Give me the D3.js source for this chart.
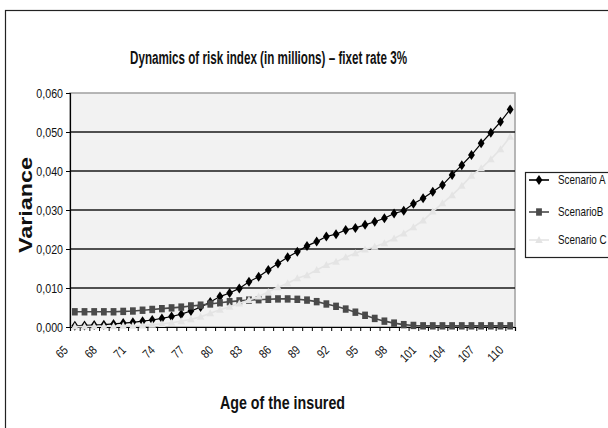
<!DOCTYPE html>
<html>
<head>
<meta charset="utf-8">
<script src="https://cdn.jsdelivr.net/npm/d3@7"></script>
<style>
  body { margin: 0; background: #fff; }
  text { font-family: "Liberation Sans", Arial, sans-serif; }
</style>
</head>
<body>
<div id="chart"></div>
<script>
// ages on the category axis
let ages = [65,66,67,68,69,70,71,72,73,74,75,76,77,78,79,80,81,82,83,84,85,86,87,88,89,
            90,91,92,93,94,95,96,97,98,99,100,101,102,103,104,105,106,107,108,109,110];
let ageLabels = [65,68,71,74,77,80,83,86,89,92,95,98,101,104,107,110];
let yTicks = [0, 0.01, 0.02, 0.03, 0.04, 0.05, 0.06];

let scenarioA = [0.0003,0.0004,0.0005,0.0006,0.0008,0.0010,0.0012,0.0015,0.0018,0.0022,
                 0.0027,0.0033,0.0041,0.0051,0.0064,0.0078,0.0087,0.0099,0.0116,0.0129,
                 0.0146,0.0163,0.0179,0.0193,0.0208,0.0219,0.0232,0.0238,0.0249,0.0254,
                 0.0262,0.0270,0.0279,0.0291,0.0298,0.0316,0.0330,0.0347,0.0364,0.0390,
                 0.0415,0.0441,0.0471,0.0498,0.0526,0.0558];
let scenarioB = [0.0039,0.0039,0.0039,0.0039,0.0039,0.0040,0.0041,0.0043,0.0045,0.0047,
                 0.0049,0.0051,0.0054,0.0056,0.0059,0.0062,0.0065,0.0067,0.0069,0.0070,
                 0.0071,0.0072,0.0072,0.0071,0.0069,0.0065,0.0059,0.0053,0.0046,0.0038,
                 0.0030,0.0022,0.0015,0.0010,0.0006,0.0004,0.0003,0.0003,0.0003,0.0003,
                 0.0003,0.0003,0.0003,0.0003,0.0003,0.0003];
let scenarioC = [0.0001,0.0001,0.0002,0.0002,0.0002,0.0003,0.0003,0.0004,0.0006,0.0008,
                 0.0011,0.0015,0.0020,0.0026,0.0035,0.0044,0.0052,0.0060,0.0069,0.0078,
                 0.0090,0.0102,0.0112,0.0125,0.0133,0.0146,0.0159,0.0167,0.0179,0.0189,
                 0.0199,0.0206,0.0215,0.0227,0.0240,0.0256,0.0273,0.0296,0.0317,0.0338,
                 0.0362,0.0388,0.0407,0.0430,0.0456,0.0488];

let seriesNames = ["Scenario A", "ScenarioB", "Scenario C"];
let seriesColors = ["#000000", "#4a4a4a", "#e4e4e4"];
let seriesShapes = ["diamond", "square", "triangle"];

let width = 608, height = 428;
let plotLeft = 70, plotRight = 515, plotTop = 93, plotBottom = 327;
let narrow = 0.82; // no Arial Narrow here, squeeze Liberation Sans instead

let svg = d3.select("#chart").append("svg")
    .attr("width", width)
    .attr("height", height);

svg.append("rect").attr("width", width).attr("height", height).attr("fill", "#fff");

// outer chart border
svg.append("rect")
    .attr("x", 5.5).attr("y", 10.5)
    .attr("width", 700).attr("height", 500)
    .attr("fill", "none")
    .attr("stroke", "#222")
    .attr("stroke-width", 1.2);

let xScale = d3.scaleBand().domain(ages).range([plotLeft, plotRight]).padding(0);
let xTickScale = d3.scaleLinear().domain([0, ages.length]).range([plotLeft, plotRight]);
let yScale = d3.scaleLinear().domain([0, 0.06]).range([plotBottom, plotTop]);

let cx = a => xScale(a) + xScale.bandwidth() / 2;

// plot area
svg.append("rect")
    .attr("x", plotLeft).attr("y", plotTop)
    .attr("width", plotRight - plotLeft).attr("height", plotBottom - plotTop)
    .attr("fill", "#f2f2f2")
    .attr("stroke", "#a0a0a0")
    .attr("stroke-width", 1.5);

// gridlines
svg.append("g")
    .selectAll("line")
    .data(yTicks.filter(d => d > 0 && d < 0.06))
    .enter()
    .append("line")
    .attr("x1", plotLeft).attr("x2", plotRight)
    .attr("y1", d => yScale(d)).attr("y2", d => yScale(d))
    .attr("stroke", "#1a1a1a")
    .attr("stroke-width", 1.5);

// y axis
let yAxis = d3.axisLeft(yScale)
    .tickValues(yTicks)
    .tickSize(4)
    .tickFormat(d => d3.format(".3f")(d).replace(".", ","));

let gy = svg.append("g")
    .attr("transform", `translate(${plotLeft}, 0)`)
    .call(yAxis);
gy.select(".domain").attr("stroke", "#000").attr("stroke-width", 1.2);
gy.selectAll(".tick line").attr("stroke", "#000");
gy.selectAll("text")
    .attr("x", null)
    .attr("transform", `translate(-7, 0) scale(${narrow}, 1)`)
    .style("font-size", "13px")
    .attr("fill", "#111");

// x axis tick marks (between categories)
let xTickAxis = d3.axisBottom(xTickScale)
    .tickValues(d3.range(0, ages.length + 1))
    .tickSize(4)
    .tickFormat("");
let gx = svg.append("g")
    .attr("transform", `translate(0, ${plotBottom})`)
    .call(xTickAxis);
gx.select(".domain").attr("stroke", "#000").attr("stroke-width", 1.2);
gx.selectAll(".tick line").attr("stroke", "#000");

// x labels, rotated
svg.append("g")
    .selectAll("text")
    .data(ageLabels)
    .enter()
    .append("text")
    .attr("transform", d => `translate(${cx(d) - 6}, ${plotBottom + 24}) rotate(-45) scale(${narrow}, 1)`)
    .attr("text-anchor", "end")
    .style("font-size", "12.5px")
    .attr("fill", "#111")
    .text(d => d);

// series
let allSeries = [scenarioA, scenarioB, scenarioC];

function markerPath(shape) {
    if (shape == "diamond") return "M0,-5 L3.4,0 L0,5 L-3.4,0 Z";
    if (shape == "square") return "M-2.9,-3.7 L2.9,-3.7 L2.9,3.7 L-2.9,3.7 Z";
    return "M0,-4 L3.8,3 L-3.8,3 Z";
}

let line = d3.line()
    .x((d, i) => cx(ages[i]))
    .y(d => yScale(d));

allSeries.forEach(function (values, s) {
    svg.append("path")
        .datum(values)
        .attr("d", line)
        .attr("fill", "none")
        .attr("stroke", seriesColors[s])
        .attr("stroke-width", s == 0 ? 1.2 : 1.6);

    svg.append("g")
        .selectAll("path")
        .data(values)
        .enter()
        .append("path")
        .attr("d", markerPath(seriesShapes[s]))
        .attr("transform", (d, i) => `translate(${cx(ages[i])}, ${yScale(d)})`)
        .attr("fill", seriesColors[s]);
});

// titles
svg.append("text")
    .attr("x", 130)
    .attr("y", 64)
    .attr("textLength", 277)
    .attr("lengthAdjust", "spacingAndGlyphs")
    .style("font-size", "17.5px")
    .style("font-weight", "bold")
    .attr("fill", "#111")
    .text("Dynamics of risk index (in millions) \u2013 fixet rate 3%");

svg.append("text")
    .attr("x", 220)
    .attr("y", 409)
    .attr("textLength", 125)
    .attr("lengthAdjust", "spacingAndGlyphs")
    .style("font-size", "18px")
    .style("font-weight", "bold")
    .attr("fill", "#111")
    .text("Age of the insured");

svg.append("text")
    .attr("transform", "translate(32, 253) rotate(-90)")
    .attr("textLength", 96)
    .attr("lengthAdjust", "spacingAndGlyphs")
    .style("font-size", "19px")
    .style("font-weight", "bold")
    .attr("fill", "#111")
    .text("Variance");

// legend
let legend = svg.append("g").attr("transform", "translate(525, 172)");
legend.append("rect")
    .attr("x", 0.5).attr("y", 0.5)
    .attr("width", 120).attr("height", 85)
    .attr("fill", "#fff")
    .attr("stroke", "#222")
    .attr("stroke-width", 1.2);

let legendY = [8, 40, 68];
seriesNames.forEach(function (name, s) {
    let g = legend.append("g").attr("transform", `translate(0, ${legendY[s]})`);
    g.append("line")
        .attr("x1", 4).attr("x2", 24)
        .attr("stroke", seriesColors[s])
        .attr("stroke-width", 1.6);
    g.append("path")
        .attr("d", markerPath(seriesShapes[s]))
        .attr("transform", "translate(14, 0)")
        .attr("fill", seriesColors[s]);
    g.append("text")
        .attr("transform", `translate(33, 0) scale(${narrow}, 1)`)
        .attr("dy", "0.35em")
        .style("font-size", "12px")
        .attr("fill", "#111")
        .text(name);
});
</script>
</body>
</html>
